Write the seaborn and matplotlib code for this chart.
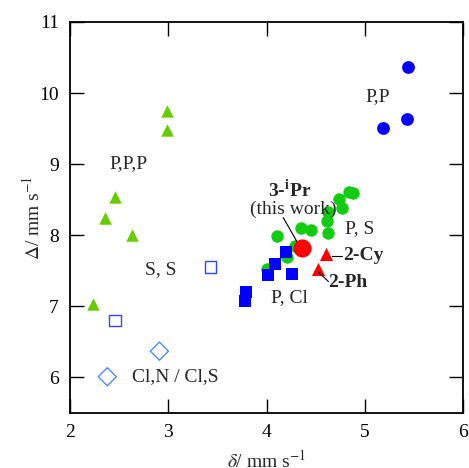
import numpy as np
import pandas as pd
import matplotlib
matplotlib.use("Agg")
import matplotlib.pyplot as plt
import seaborn as sns

# Data (δ, Δ) per group
ppp_d = [2.99, 2.99, 2.46, 2.36, 2.63, 2.23]
ppp_D = [9.75, 9.48, 8.54, 8.24, 8.00, 7.04]

pp_d = [5.44, 5.43, 5.19]
pp_D = [10.37, 9.63, 9.51]

ps_d = [4.84, 4.88, 4.74, 4.77, 4.63, 4.62, 4.63, 4.35, 4.45, 4.11, 4.29, 4.21, 4.01]
ps_D = [8.61, 8.60, 8.51, 8.39, 8.33, 8.20, 8.03, 8.10, 8.07, 7.99, 7.85, 7.69, 7.53]

pcl_d = [4.20, 4.09, 4.02, 4.26, 3.79, 3.78]
pcl_D = [7.76, 7.60, 7.44, 7.46, 7.20, 7.07]

ss_d = [2.46, 3.43]
ss_D = [6.80, 7.55]

cl_d = [2.91, 2.38]
cl_D = [6.37, 6.01]

ipr_d = [4.36]
ipr_D = [7.82]

red_tri_d = [4.61, 4.52]
red_tri_D = [7.73, 7.53]

sns.set_theme(style="ticks")
plt.rcParams['font.family'] = ['Liberation Serif', 'DejaVu Serif']
plt.rcParams['mathtext.fontset'] = 'stix'

fig = plt.figure(figsize=(4.69, 4.68), dpi=100)
ax = fig.add_axes([70/469, 1-413/468, (463-70)/469, (413-22)/468])

def sc(x, y, **kw):
    sns.scatterplot(x=x, y=y, ax=ax, legend=False, linewidth=kw.pop('lw', 0), **kw)

sc(ppp_d, ppp_D, marker='^', s=80, color='#66cc00', edgecolor='#66cc00')
sc(pp_d, pp_D, marker='o', s=85, color='#0000ff')
sc(ps_d, ps_D, marker='o', s=80, color='#11cc11')
sc(pcl_d, pcl_D, marker='s', s=70, color='#0000ff')
sc(ss_d, ss_D, marker='s', s=70, facecolor='none', edgecolor='#3344ff', lw=1.0)
sc(cl_d, cl_D, marker='D', s=85, facecolor='none', edgecolor='#5588ff', lw=1.0)
sc(ipr_d, ipr_D, marker='o', s=170, color='#ff0000', zorder=5)
sc(red_tri_d, red_tri_D, marker='^', s=90, color='#ff0000')

ax.set_xlim(2, 6)
ax.set_ylim(5.5, 11)
ax.set_xticks([2, 3, 4, 5, 6])
ax.set_yticks([6, 7, 8, 9, 10, 11])
ax.tick_params(direction='in', length=10, width=1.0, labelsize=14,
               top=True, right=True, pad=8, colors='black')
for sp in ax.spines.values():
    sp.set_linewidth(1.3)
    sp.set_color('black')

ax.set_xlabel(r'$\delta$/ mm s$^{-1}$', fontsize=14, labelpad=6)
ax.set_ylabel(r'$\Delta$/ mm s$^{-1}$', fontsize=14, labelpad=-3)

fs = 14
ax.text(5.13, 9.95, 'P,P', fontsize=fs, ha='center', va='center')
ax.text(2.59, 9.01, 'P,P,P', fontsize=fs, ha='center', va='center')
ax.text(2.92, 7.52, 'S, S', fontsize=fs, ha='center', va='center')
ax.text(2.63, 6.01, 'Cl,N / Cl,S', fontsize=fs, ha='left', va='center')
ax.text(4.95, 8.10, 'P, S', fontsize=fs, ha='center', va='center')
ax.text(4.23, 7.13, 'P, Cl', fontsize=fs, ha='center', va='center')
ax.text(4.24, 8.63, r'3-$^{\mathbf{i}}$Pr', fontsize=fs, ha='center', va='center', fontweight='bold')
ax.text(4.27, 8.37, '(this work)', fontsize=fs, ha='center', va='center')
ax.plot([4.17, 4.31], [8.25, 7.91], color='black', lw=0.8)
ax.text(4.78, 7.72, '2-Cy', fontsize=fs, ha='left', va='center', fontweight='bold')
ax.plot([4.67, 4.77], [7.71, 7.71], color='black', lw=0.8)
ax.text(4.63, 7.33, '2-Ph', fontsize=fs, ha='left', va='center', fontweight='bold')
ax.plot([4.53, 4.63], [7.48, 7.35], color='black', lw=0.8)

fig.savefig('out.png', dpi=100)
